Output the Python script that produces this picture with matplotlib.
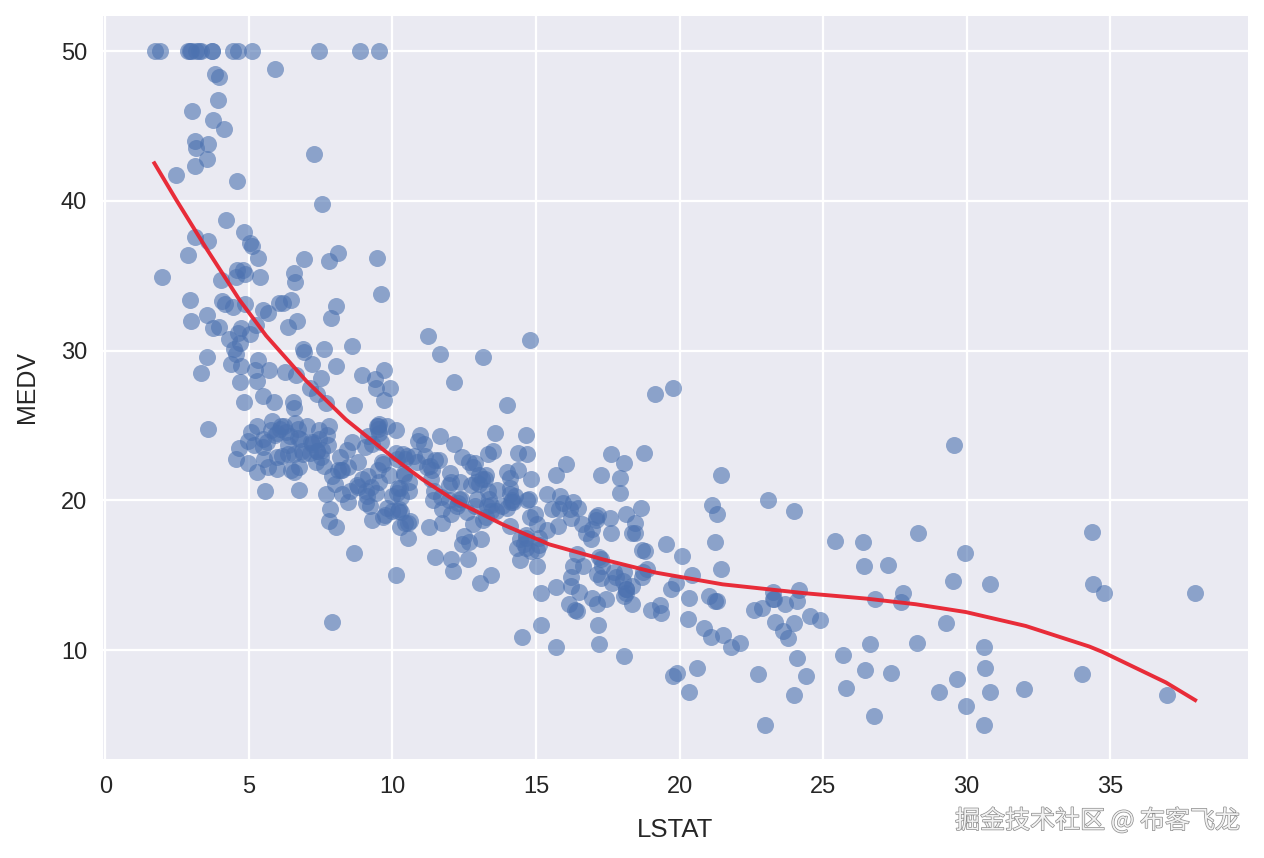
import matplotlib
matplotlib.use('Agg')
import matplotlib.pyplot as plt
import matplotlib.patheffects as pe

lstat = [4.98,9.14,4.03,2.94,5.33,5.21,12.43,19.15,29.93,17.10,20.45,13.27,15.71,8.26,10.26,8.47,6.58,14.67,11.69,11.28,
21.02,13.83,18.72,19.88,16.30,16.51,14.81,17.28,12.80,11.98,22.60,13.04,27.71,18.35,20.34,9.68,11.41,8.77,10.13,4.32,
1.98,4.84,5.81,7.44,9.55,10.21,14.15,18.80,30.81,16.20,13.45,9.43,5.28,8.43,14.80,4.81,5.77,3.95,6.86,9.22,
13.15,14.44,6.73,9.50,8.05,4.67,10.24,8.10,13.09,8.79,6.72,9.88,5.52,7.54,6.78,8.94,11.97,10.27,12.34,9.10,
5.29,7.22,6.72,7.51,9.62,6.53,12.86,8.44,5.50,5.70,8.81,8.20,8.16,6.21,10.59,6.65,11.34,4.21,3.57,6.19,
9.42,7.67,10.63,13.44,12.33,16.47,18.66,14.09,12.27,15.55,13.00,10.16,16.21,17.09,10.45,15.76,12.04,10.30,15.37,13.61,
14.37,14.27,17.93,25.41,17.58,14.81,27.26,17.19,15.39,18.34,12.60,12.26,11.12,15.03,17.31,16.96,16.90,14.59,21.32,18.46,
24.16,34.41,26.82,26.42,29.29,27.80,16.65,29.53,28.32,21.45,14.10,13.28,12.12,15.79,15.12,15.02,16.14,4.59,6.43,7.39,
5.50,1.73,1.92,3.32,11.64,9.81,3.70,12.14,11.10,11.32,14.43,12.03,14.69,9.04,9.64,5.33,10.11,6.29,6.92,5.04,
7.56,9.45,4.82,5.68,13.98,13.15,4.45,6.68,4.56,5.39,5.10,4.69,2.87,5.03,4.38,2.97,4.08,8.61,6.62,4.56,
4.45,7.43,3.11,3.81,2.88,10.87,10.97,18.06,14.66,23.09,17.27,23.98,16.03,9.38,29.55,9.47,13.51,9.69,17.92,10.50,
9.71,21.46,9.93,7.60,4.14,4.63,3.13,6.36,3.92,3.76,11.65,5.25,2.47,3.95,8.05,10.88,9.54,4.73,6.36,7.37,
11.38,12.40,11.22,5.19,12.50,18.46,9.16,10.15,9.52,6.56,5.90,3.59,3.53,3.54,6.57,9.25,3.11,5.12,7.79,6.90,
9.59,7.26,5.91,11.25,8.10,10.45,14.79,7.44,3.16,13.65,13.00,6.59,7.73,6.58,3.53,2.98,6.05,4.16,7.19,4.85,
3.76,4.59,3.01,3.16,7.85,8.23,12.93,7.14,7.60,9.51,3.33,3.56,4.70,8.58,10.40,6.27,7.39,15.84,4.97,4.74,
6.07,9.50,8.67,4.86,6.93,8.93,6.47,7.53,4.54,9.97,12.64,5.98,11.72,7.90,9.28,11.50,18.33,15.94,10.36,12.73,
7.20,6.87,7.70,11.74,6.12,5.08,6.15,12.79,9.97,7.34,9.09,12.43,7.83,5.68,6.75,8.01,9.80,10.56,8.51,9.74,
9.29,5.49,8.65,7.18,4.61,10.53,12.67,6.36,5.99,5.89,5.98,5.49,7.79,4.50,8.05,5.57,17.60,13.27,11.48,12.67,
7.79,14.19,10.19,14.64,5.29,7.12,14.00,13.33,3.26,3.73,2.96,9.53,8.88,34.77,37.97,13.44,23.24,21.24,23.69,21.78,
17.21,21.08,23.60,24.56,30.63,30.81,28.28,31.99,30.62,20.85,17.11,18.76,25.68,15.17,16.35,17.12,19.37,19.92,30.59,29.97,
26.77,20.32,20.31,19.77,27.38,22.98,23.34,12.13,26.40,19.78,10.11,21.22,34.37,20.08,36.98,29.05,25.79,26.64,20.62,22.74,
15.02,15.70,14.10,23.29,17.16,24.39,15.69,14.52,21.52,24.08,17.64,19.69,12.03,16.22,15.17,23.27,18.05,26.45,34.02,22.88,
22.11,19.52,16.59,18.85,23.79,23.98,17.79,16.44,18.13,19.31,17.44,17.73,17.27,16.74,18.71,18.13,19.01,16.94,16.23,14.70,
16.42,14.65,13.99,10.29,13.22,14.13,17.15,21.32,18.13,14.76,16.29,12.87,14.36,11.66,18.14,24.10,18.68,24.91,18.03,13.11,
10.74,7.74,7.01,10.42,13.34,10.58,14.98,11.45,18.06,23.97,29.68,18.07,13.35,12.01,13.59,17.60,21.14,14.10,12.92,15.10,
14.33,9.67,9.08,5.64,6.48,7.88]

medv = [24,21.6,34.7,33.4,36.2,28.7,22.9,27.1,16.5,18.9,15,18.9,21.7,20.4,18.2,19.9,23.1,17.5,20.2,18.2,
13.6,19.6,15.2,14.5,15.6,13.9,16.6,14.8,18.4,21,12.7,14.5,13.2,13.1,13.5,18.9,20,21,24.7,30.8,
34.9,26.6,25.3,24.7,21.2,19.3,20,16.6,14.4,19.4,19.7,20.5,25,23.4,18.9,35.4,24.7,31.6,23.3,19.6,
18.7,16,22.2,25,33,23.5,19.4,22,17.4,20.9,24.2,21.7,22.8,23.4,24.1,21.4,20,20.8,21.2,20.3,
28,23.9,24.8,22.9,23.9,26.6,22.5,22.2,23.6,28.7,22.6,22,22.9,25,20.6,28.4,21.4,38.7,43.8,33.2,
27.5,26.5,18.6,19.3,20.1,19.5,19.5,20.4,19.8,19.4,21.7,22.8,18.8,18.7,18.5,18.3,21.2,19.2,20.4,19.3,
22,20.3,20.5,17.3,18.8,21.4,15.7,16.2,18,14.3,19.2,19.6,23,18.4,15.6,18.1,17.4,17.1,13.3,17.8,
14,14.4,13.4,15.6,11.8,13.8,15.6,14.6,17.8,15.4,21.5,19.6,15.3,19.4,17,15.6,13.1,41.3,24.3,23.3,
27,50,50,50,22.7,25,50,23.8,23.8,22.3,17.4,19.1,23.1,23.6,22.6,29.4,23.2,24.6,29.9,37.2,
39.8,36.2,37.9,32.5,26.4,29.6,50,32,29.8,34.9,37,30.5,36.4,31.1,29.1,50,33.3,30.3,34.6,34.9,
32.9,24.1,42.3,48.5,50,22.6,24.4,22.5,24.4,20,21.7,19.3,22.4,28.1,23.7,25,23.3,28.7,21.5,23,
26.7,21.7,27.5,30.1,44.8,50,37.6,31.6,46.7,31.5,24.3,31.7,41.7,48.3,29,24,25.1,31.5,23.7,23.3,
22,20.1,22.2,23.7,17.6,18.5,24.3,20.5,24.5,26.2,24.4,24.8,29.6,42.8,21.9,20.9,44,50,36,30.1,
33.8,43.1,48.8,31,36.5,22.8,30.7,50,43.5,20.7,21.1,25.2,24.4,35.2,32.4,32,33.2,33.1,29.1,35.1,
45.4,35.4,46,50,32.2,22,20.1,23.2,22.3,24.8,28.5,37.3,27.9,23.9,21.7,28.6,27.1,20.3,22.5,29,
24.8,22,26.4,33.1,36.1,28.4,33.4,28.2,22.8,20.3,16.1,22.1,19.4,21.6,23.8,16.2,17.8,19.8,23.1,21,
23.8,23.1,20.4,18.5,25,24.6,23,22.2,19.3,22.6,19.8,17.1,19.4,22.2,20.7,21.1,19.5,18.5,20.6,19,
18.7,32.7,16.5,23.9,31.2,17.5,17.2,23.1,24.5,26.6,22.9,24.1,18.6,30.1,18.2,20.6,17.8,21.7,22.7,22.6,
25,19.9,20.8,16.8,21.9,27.5,21.9,23.1,50,50,50,50,50,13.8,13.8,15,13.9,13.3,13.1,10.2,
10.4,10.9,11.3,12.3,8.8,7.2,10.5,7.4,10.2,11.5,15.1,23.2,9.7,13.8,12.7,13.1,12.5,8.5,5,6.3,
5.6,7.2,12.1,8.3,8.5,5,11.9,27.9,17.2,27.5,15,17.2,17.9,16.3,7,7.2,7.5,10.4,8.8,8.4,
16.7,14.2,20.8,13.4,11.7,8.3,10.2,10.9,11,9.5,14.5,14.1,16.1,14.3,11.7,13.4,9.6,8.7,8.4,12.8,
10.5,17.1,18.4,15.4,10.8,11.8,14.9,12.6,14.1,13,13.4,15.2,16.1,17.8,14.9,14.1,12.7,13.5,14.9,20,
16.4,17.7,19.5,20.2,21.4,19.9,19,19.1,19.1,20.1,19.9,19.6,23.2,29.8,13.8,13.3,16.7,12,14.6,21.4,
23,23.7,25,21.8,20.6,21.2,19.1,20.6,15.2,7,8.1,13.6,20.1,21.8,24.5,23.1,19.7,18.3,21.2,17.5,
16.8,22.4,20.6,23.9,22,11.9]

n = min(len(lstat), len(medv))
lstat = lstat[:n]
medv = medv[:n]

# red curve
fit_x = [1.71, 2.47, 3.51, 4.67, 5.60, 6.99, 8.38, 10.13, 11.05, 12.21, 13.84, 15.46, 17.32, 19.18, 21.5, 24.4,
         26.49, 28.23, 29.97, 32.06, 34.27, 34.73, 36.94, 37.96]
fit_y = [42.51, 40.07, 36.85, 33.4, 31.0, 28.0, 25.4, 22.7, 21.4, 19.95, 18.4, 17.07, 16.07, 15.18, 14.4, 13.8,
         13.45, 13.07, 12.55, 11.62, 10.25, 9.89, 7.85, 6.67]

plt.rcParams['font.family'] = ['Liberation Sans', 'DejaVu Sans']

fig = plt.figure(figsize=(12.64, 8.58), dpi=100)
ax = fig.add_axes([103 / 1264, 1 - 759 / 858, 1145 / 1264, 743 / 858])
ax.set_facecolor('#EAEAF2')
ax.grid(True, color='white', linewidth=1.6)
ax.set_axisbelow(True)
for s in ax.spines.values():
    s.set_visible(False)

ax.scatter(lstat, medv, s=150, color='#4C72B0', alpha=0.6, linewidths=0)
ax.plot(fit_x, fit_y, color='#E8222F', linewidth=2.8, alpha=0.95)

ax.set_xlim(-0.08, 39.8)
ax.set_ylim(2.74, 52.34)
ax.set_xticks([0, 5, 10, 15, 20, 25, 30, 35])
ax.set_yticks([10, 20, 30, 40, 50])
ax.tick_params(axis='x', length=0, labelsize=17, labelcolor='#262626', pad=12)
ax.tick_params(axis='y', length=0, labelsize=17, labelcolor='#262626', pad=11.4)
ax.set_xlabel('LSTAT', fontsize=18.5, color='#262626', labelpad=14.7)
ax.set_ylabel('MEDV', fontsize=18, color='#262626', labelpad=15.5)

# watermark
fig.text(1240 / 1264, 1 - 821 / 858, '掘金技术社区 @ 布客飞龙', ha='right', va='center',
         fontsize=18, color='#f2f2f2', family=['Noto Sans CJK SC', 'DejaVu Sans'],
         path_effects=[pe.withStroke(linewidth=1.0, foreground='#8a8a8a')])

fig.savefig('out.png', dpi=100)
